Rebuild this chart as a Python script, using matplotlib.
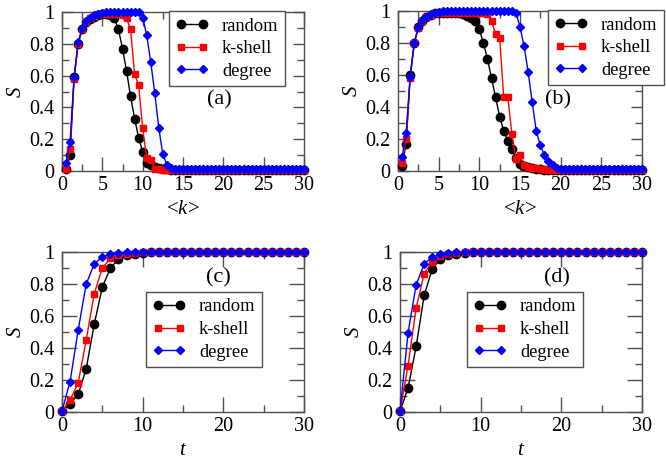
import numpy as np
import matplotlib
matplotlib.use("Agg")
import matplotlib.pyplot as plt
from matplotlib.ticker import MultipleLocator, FormatStrFormatter

plt.rcParams['font.family'] = ['Liberation Serif', 'DejaVu Serif']
plt.rcParams['mathtext.fontset'] = 'custom'
plt.rcParams['mathtext.rm'] = 'Liberation Serif'
plt.rcParams['mathtext.it'] = 'Liberation Serif:italic'

# ---- data: panels (a) and (b), S vs <k> ----
k_vals = np.arange(0.5, 30.01, 0.5)

a_random = [0.01, 0.10, 0.59, 0.80, 0.89, 0.935, 0.955, 0.97, 0.98, 0.985,
            0.985, 0.98, 0.96, 0.89, 0.77, 0.63, 0.47, 0.33, 0.21, 0.12,
            0.05, 0.035, 0.028, 0.02, 0.015, 0.01, 0.008, 0.008, 0.008, 0.008,
            0.008, 0.008, 0.008, 0.008, 0.008, 0.008, 0.008, 0.008, 0.008, 0.008,
            0.008, 0.008, 0.008, 0.008, 0.008, 0.008, 0.008, 0.008, 0.008, 0.008,
            0.008, 0.008, 0.008, 0.008, 0.008, 0.008, 0.008, 0.008, 0.008, 0.008]
a_kshell = [0.015, 0.14, 0.58, 0.80, 0.895, 0.94, 0.96, 0.975, 0.985, 0.99,
            0.99, 0.99, 0.99, 0.985, 0.98, 0.96, 0.89, 0.61, 0.54, 0.27,
            0.08, 0.07, 0.015, 0.01, 0.008, 0.006, 0.006, 0.006, 0.006, 0.006,
            0.006, 0.006, 0.006, 0.006, 0.006, 0.006, 0.006, 0.006, 0.006, 0.006,
            0.006, 0.006, 0.006, 0.006, 0.006, 0.006, 0.006, 0.006, 0.006, 0.006,
            0.006, 0.006, 0.006, 0.006, 0.006, 0.006, 0.006, 0.006, 0.006, 0.006]
a_degree = [0.05, 0.185, 0.59, 0.81, 0.90, 0.945, 0.965, 0.98, 0.99, 0.995,
            1.0, 1.0, 1.0, 1.0, 1.0, 1.0, 1.0, 1.0, 1.0, 0.965,
            0.855, 0.685, 0.49, 0.27, 0.105, 0.04, 0.02, 0.012, 0.012, 0.012,
            0.012, 0.012, 0.012, 0.012, 0.012, 0.012, 0.012, 0.012, 0.012, 0.012,
            0.012, 0.012, 0.012, 0.012, 0.012, 0.012, 0.012, 0.012, 0.012, 0.012,
            0.012, 0.012, 0.012, 0.012, 0.012, 0.012, 0.012, 0.012, 0.012, 0.012]

b_random = [0.03, 0.17, 0.60, 0.80, 0.90, 0.94, 0.96, 0.975, 0.985, 0.99,
            0.99, 0.99, 0.99, 0.99, 0.985, 0.98, 0.97, 0.955, 0.935, 0.885,
            0.80, 0.70, 0.58, 0.46, 0.34, 0.25, 0.19, 0.14, 0.08, 0.045,
            0.03, 0.022, 0.017, 0.013, 0.01, 0.008, 0.008, 0.008, 0.008, 0.008,
            0.008, 0.008, 0.008, 0.008, 0.008, 0.008, 0.008, 0.008, 0.008, 0.008,
            0.008, 0.008, 0.008, 0.008, 0.008, 0.008, 0.008, 0.008, 0.008, 0.008]
b_kshell = [0.05, 0.20, 0.58, 0.80, 0.895, 0.94, 0.96, 0.975, 0.985, 0.99,
            0.99, 0.99, 0.99, 0.99, 0.99, 0.99, 0.99, 0.985, 0.985, 0.985,
            0.985, 0.98, 0.94, 0.855, 0.83, 0.46, 0.465, 0.23, 0.075, 0.10,
            0.035, 0.025, 0.02, 0.017, 0.013, 0.01, 0.008, 0.006, 0.006, 0.006,
            0.006, 0.006, 0.006, 0.006, 0.006, 0.006, 0.006, 0.006, 0.006, 0.006,
            0.006, 0.006, 0.006, 0.006, 0.006, 0.006, 0.006, 0.006, 0.006, 0.006]
b_degree = [0.085, 0.24, 0.59, 0.80, 0.90, 0.945, 0.965, 0.98, 0.99, 0.995,
            1.0, 1.0, 1.0, 1.0, 1.0, 1.0, 1.0, 1.0, 1.0, 1.0,
            1.0, 1.0, 1.0, 1.0, 1.0, 1.0, 1.0, 1.0, 0.99, 0.90,
            0.78, 0.62, 0.43, 0.25, 0.16, 0.10, 0.06, 0.035, 0.02, 0.015,
            0.015, 0.015, 0.015, 0.015, 0.015, 0.015, 0.015, 0.015, 0.015, 0.015,
            0.015, 0.015, 0.015, 0.015, 0.015, 0.015, 0.015, 0.015, 0.015, 0.015]

# ---- data: panels (c) and (d), S vs t ----
t_vals = np.arange(0, 31)

c_random = [0.005, 0.05, 0.11, 0.27, 0.55, 0.78, 0.90, 0.955, 0.98, 0.99, 0.995,
            0.998, 1.0, 1.0, 1.0, 1.0, 1.0, 1.0, 1.0, 1.0, 1.0,
            1.0, 1.0, 1.0, 1.0, 1.0, 1.0, 1.0, 1.0, 1.0, 1.0]
c_kshell = [0.005, 0.075, 0.18, 0.45, 0.74, 0.90, 0.96, 0.98, 0.99, 0.995, 0.998,
            1.0, 1.0, 1.0, 1.0, 1.0, 1.0, 1.0, 1.0, 1.0, 1.0,
            1.0, 1.0, 1.0, 1.0, 1.0, 1.0, 1.0, 1.0, 1.0, 1.0]
c_degree = [0.005, 0.19, 0.51, 0.80, 0.925, 0.97, 0.985, 0.995, 0.998, 1.0, 1.0,
            1.0, 1.0, 1.0, 1.0, 1.0, 1.0, 1.0, 1.0, 1.0, 1.0,
            1.0, 1.0, 1.0, 1.0, 1.0, 1.0, 1.0, 1.0, 1.0, 1.0]

d_random = [0.005, 0.15, 0.41, 0.73, 0.895, 0.955, 0.98, 0.99, 0.995, 0.998, 1.0,
            1.0, 1.0, 1.0, 1.0, 1.0, 1.0, 1.0, 1.0, 1.0, 1.0,
            1.0, 1.0, 1.0, 1.0, 1.0, 1.0, 1.0, 1.0, 1.0, 1.0]
d_kshell = [0.005, 0.29, 0.65, 0.865, 0.94, 0.975, 0.99, 0.995, 0.998, 1.0, 1.0,
            1.0, 1.0, 1.0, 1.0, 1.0, 1.0, 1.0, 1.0, 1.0, 1.0,
            1.0, 1.0, 1.0, 1.0, 1.0, 1.0, 1.0, 1.0, 1.0, 1.0]
d_degree = [0.005, 0.495, 0.795, 0.925, 0.97, 0.985, 0.995, 0.998, 1.0, 1.0, 1.0,
            1.0, 1.0, 1.0, 1.0, 1.0, 1.0, 1.0, 1.0, 1.0, 1.0,
            1.0, 1.0, 1.0, 1.0, 1.0, 1.0, 1.0, 1.0, 1.0, 1.0]

series_names = ["random", "k-shell", "degree"]

W, H = 666, 463
fig = plt.figure(figsize=(W / 100, H / 100), dpi=100)


def px_axes(left, right, top, bottom):
    return fig.add_axes([left / W, 1 - bottom / H, (right - left) / W, (bottom - top) / H])


ax_a = px_axes(62, 304, 12, 171)
ax_b = px_axes(398, 642, 11, 171)
ax_c = px_axes(62, 304, 252, 412)
ax_d = px_axes(400, 642, 252, 412)

spine_col = '#505050'


def draw_panel(ax, x, ys, xlabel, xmaj, xmin, tag, tag_pos, leg_anchor, top_row):
    styles = [('black', 'o', 6.0), ('#ff0000', 's', 4.8), ('#0000ff', 'D', 3.8)]
    for y, name, (col, mk, ms) in zip(ys, series_names, styles):
        ax.plot(x, y, color=col, marker=mk, ms=ms, lw=1.0, label=name,
                clip_on=False, zorder=3)
    ax.set_xlim(0, 30)
    ax.set_ylim(0, 1)
    ax.xaxis.set_major_locator(MultipleLocator(xmaj))
    ax.xaxis.set_minor_locator(MultipleLocator(xmin))
    ax.yaxis.set_major_locator(MultipleLocator(0.2))
    ax.yaxis.set_minor_locator(MultipleLocator(0.1))
    ax.yaxis.set_major_formatter(FormatStrFormatter('%g'))
    ax.xaxis.set_major_formatter(FormatStrFormatter('%g'))
    if top_row:
        xl, yl = 10, 8
    else:
        xl, yl = 11, 11
    ax.tick_params(axis='x', which='major', direction='in', length=xl, width=1,
                   color=spine_col, top=True, labelsize=14.5, pad=3.5)
    ax.tick_params(axis='y', which='major', direction='in', length=yl, width=1,
                   color=spine_col, right=True, labelsize=14.5, pad=5.5)
    ax.tick_params(which='minor', direction='in', length=5, width=1,
                   color=spine_col, top=True, right=True)
    for s in ax.spines.values():
        s.set_color(spine_col)
        s.set_linewidth(1.0)
    ax.set_xlabel(xlabel, fontsize=15, labelpad=3.5)
    ax.set_ylabel('$S$', fontsize=15, labelpad=2.5)
    ax.text(tag_pos[0], tag_pos[1], tag, transform=ax.transAxes,
            fontsize=16, ha='center', va='center')
    leg = ax.legend(loc='upper right', bbox_to_anchor=leg_anchor, borderaxespad=0,
                    fontsize=13.3, numpoints=2, handlelength=1.75, handletextpad=0.75,
                    labelspacing=0.3, borderpad=0.35, fancybox=False,
                    framealpha=1, edgecolor=spine_col)
    leg.get_frame().set_linewidth(1.0)
    leg.set_zorder(5)


draw_panel(ax_a, k_vals, [a_random, a_kshell, a_degree], '<$k$>', 5, 2.5,
           '(a)', (0.649, 0.447), (0.921, 1.006), True)
draw_panel(ax_b, k_vals, [b_random, b_kshell, b_degree], '<$k$>', 5, 2.5,
           '(b)', (0.656, 0.447), (1.09, 1.006), True)
draw_panel(ax_c, t_vals, [c_random, c_kshell, c_degree], '$t$', 10, 5,
           '(c)', (0.645, 0.8375), (0.826, 0.75), False)
draw_panel(ax_d, t_vals, [d_random, d_kshell, d_degree], '$t$', 10, 5,
           '(d)', (0.649, 0.8375), (0.756, 0.75), False)

fig.savefig('out.png', dpi=100)
